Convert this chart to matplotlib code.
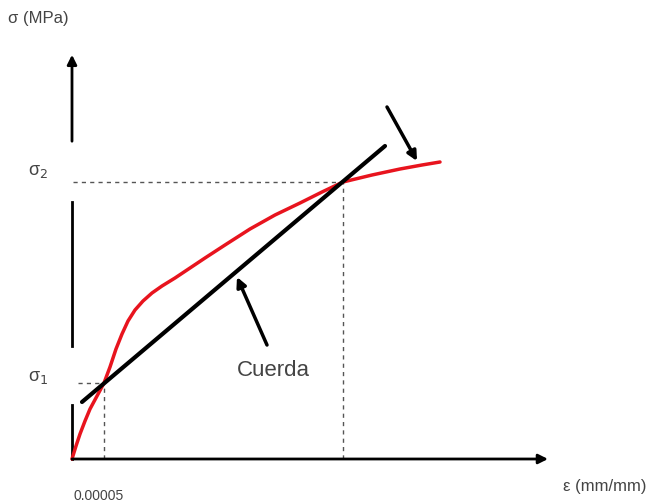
import matplotlib
matplotlib.use('Agg')
import matplotlib.pyplot as plt

# stress-strain curve (arbitrary units, origin at the axes corner)
strain = [0, 4, 8, 13, 18, 25, 32, 38, 44, 50, 56, 63, 71, 80, 90,
          103, 118, 133, 153, 178, 203, 228, 250, 271, 300, 328, 350, 368]
stress = [0, 13, 25, 38, 50, 63, 76, 92, 110, 125, 138, 149, 158, 166,
          173, 181, 191, 201, 214, 230, 244, 256, 267, 277, 284, 290, 294,
          297]

# chord (secant) through the two reference points
chord_x = [10, 313]
chord_y = [57, 313]
eps1, sig1 = 32, 76
eps2, sig2 = 271, 277

out_filename = "out.png"
txt = "#444444"
plt.rcParams['font.family'] = ['Liberation Sans', 'DejaVu Sans']

fig = plt.figure(figsize=(6.59, 5.02), dpi=100)
ax = fig.add_axes([0, 0, 1, 1])
ax.set_xlim(-72, 587)
ax.set_ylim(-42, 460)
ax.axis('off')

# axes drawn by hand: broken vertical axis, horizontal axis with arrow
ax.plot([0, 0], [0, 54], color='black', lw=2)
ax.plot([0, 0], [113, 257], color='black', lw=2)
ax.annotate("", xy=(0, 407), xytext=(0, 315),
            arrowprops=dict(arrowstyle='-|>', color='black', lw=2,
                            mutation_scale=14))
ax.annotate("", xy=(476, 0), xytext=(0, 0),
            arrowprops=dict(arrowstyle='-|>', color='black', lw=2,
                            mutation_scale=14, shrinkA=0, shrinkB=0))

# guide lines
dash = dict(color='#555555', lw=1, ls=(0, (3, 3)))
ax.plot([1, eps2], [sig2, sig2], **dash)
ax.plot([eps2, eps2], [0, sig2], **dash)
ax.plot([6, eps1], [sig1, sig1], **dash)
ax.plot([eps1, eps1], [0, sig1], **dash)

ax.plot(strain, stress, color='#e8141e', lw=2.5, solid_capstyle='round',
        solid_joinstyle='round')
ax.plot(chord_x, chord_y, color='black', lw=3, solid_capstyle='round')

# pointers
ax.annotate("", xy=(165, 182), xytext=(195, 114),
            arrowprops=dict(arrowstyle='-|>', color='black', lw=2.5,
                            mutation_scale=14, shrinkA=0, shrinkB=0))
ax.annotate("", xy=(345, 298), xytext=(315, 352),
            arrowprops=dict(arrowstyle='-|>', color='black', lw=2.5,
                            mutation_scale=14, shrinkA=0, shrinkB=0))

ax.text(201, 90, "Cuerda", fontsize=16, color=txt, ha='center', va='center')
ax.text(-64, 442, "σ (MPa)", fontsize=12, color=txt, ha='left', va='center')
ax.text(-44, 288, "σ$_2$", fontsize=13, color=txt, ha='left', va='center')
ax.text(-44, 82, "σ$_1$", fontsize=13, color=txt, ha='left', va='center')
ax.text(27, -36, "0.00005", fontsize=10, color=txt, ha='center', va='center')
ax.text(491, -27, "ε (mm/mm)", fontsize=12, color=txt, ha='left', va='center')

plt.savefig(out_filename)
plt.close()
